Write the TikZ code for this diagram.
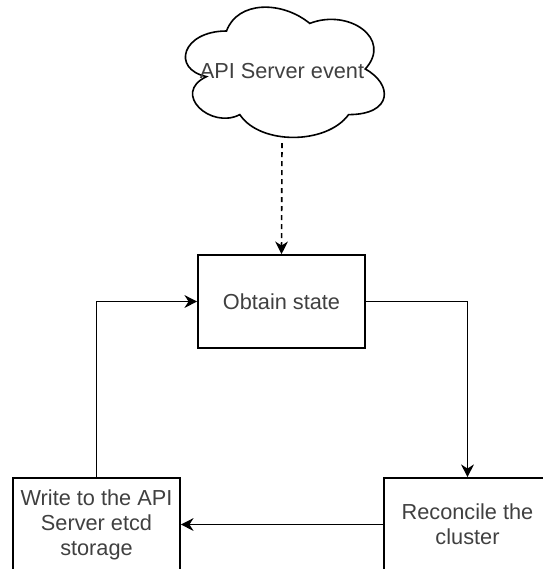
\documentclass[tikz,border=0pt]{standalone}
\usepackage{fontspec}
\setmainfont{Liberation Sans}
\usetikzlibrary{arrows.meta}
\definecolor{txt}{gray}{0.25}
\begin{document}
\begin{tikzpicture}[x=0.75pt,y=-0.75pt,
  line width=1.2pt,
  lbl/.style={font=\fontsize{16.3}{18.75}\selectfont, text=txt, align=center},
  box/.style={lbl, draw, minimum width=125.25pt, minimum height=69.75pt, inner sep=0pt},
  arr/.style={-{Stealth[length=9.5pt,width=9.5pt,inset=3pt]}},
  dsh/.style={arr, dash pattern=on 3.75pt off 3pt}]
\useasboundingbox (0,0) rectangle (543,569);
\clip (0,0) rectangle (543,569);
% cloud
\begin{scope}[shift={(171,-7)}, x=166.5pt, y=-114pt]
\draw (0.25,0.25) .. controls (0.05,0.25) and (0,0.5) .. (0.16,0.55)
  .. controls (0,0.66) and (0.18,0.9) .. (0.31,0.8)
  .. controls (0.4,1) and (0.7,1) .. (0.8,0.8)
  .. controls (1,0.8) and (1,0.6) .. (0.875,0.5)
  .. controls (1,0.3) and (0.8,0.1) .. (0.625,0.2)
  .. controls (0.5,0.05) and (0.3,0.05) .. (0.25,0.25) -- cycle;
\end{scope}
\node[lbl] (event) at (282,71) {API Server event};
\coordinate (cloudbot) at (282,143);
% boxes
\node[box] (obtain) at (281.5,301.5) {Obtain state};
\node[box] (write) at (96.5,524.5) {Write to the API\\Server etcd\\storage};
\node[box] (recon) at (467.5,524.5) {Reconcile the\\cluster};
% connectors
\draw[dsh] (cloudbot) -- (obtain.north);
\draw[arr] (obtain.east) -| (recon.north);
\draw[arr] (recon.west) -- (write.east);
\draw[arr] (write.north) |- (obtain.west);
\end{tikzpicture}
\end{document}
